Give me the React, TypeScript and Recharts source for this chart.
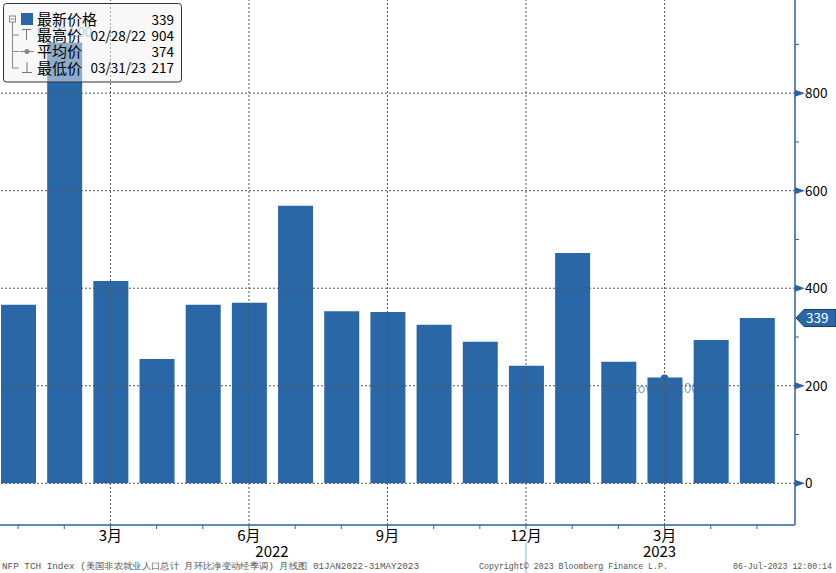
import React from 'react';
import { BarChart, Bar, XAxis, YAxis, ReferenceLine, ReferenceDot } from 'recharts';

// NFP TCH Index, monthly change, Jan 2022 - May 2023
const months = [
  '2022-01', '2022-02', '2022-03', '2022-04', '2022-05', '2022-06', '2022-07', '2022-08', '2022-09',
  '2022-10', '2022-11', '2022-12', '2023-01', '2023-02', '2023-03', '2023-04', '2023-05',
];
const monthLabels = ['', '', '3月', '', '', '6月', '', '', '9月', '', '', '12月', '', '', '3月', '', ''];
const values = [366, 904, 415, 255, 366, 370, 569, 353, 351, 325, 290, 241, 472, 249, 217, 294, 339];
const yTicks = [0, 100, 200, 300, 400, 500, 600, 700, 800, 900];
const majorTicks = [0, 200, 400, 600, 800];
const gridMonths = ['2022-03', '2022-06', '2022-09', '2022-12', '2023-03'];

const legendLabels = ['最新价格', '最高价', '平均价', '最低价'];
const legendDates = ['', '02/28/22', '', '03/31/23'];
const legendValues = ['339', '904', '374', '217'];

const LAST = 339;
const HI = { x: '2022-02', y: 904 };
const LOW = { x: '2023-03', y: 217 };

const data = months.map((m, i) => ({ m, v: values[i] }));

const BLUE = '#2a67a7';
const AXIS_BLUE = '#2b62a0';
const GHOST = '#7fa6d6';
const FONT = '"Noto Sans CJK SC", "Noto Sans", sans-serif';
const MONO = '"Liberation Mono", monospace';
const Y_DOMAIN: [number, number] = [-85.5, 991];
const X_PAD = { left: -5, right: 15 };

function YTick(props: any) {
  const { x, y, payload } = props;
  const v = payload.value;
  if (!majorTicks.includes(v)) {
    return <line x1={x} x2={x + 4} y1={y} y2={y} stroke={AXIS_BLUE} />;
  }
  return (
    <g>
      <polygon points={`${x},${y - 3.5} ${x + 10},${y} ${x},${y + 3.5}`} fill={AXIS_BLUE} />
      <text x={x + 10} y={y + 5} fontSize={13.5} fontFamily={FONT} fill="#000">{v}</text>
    </g>
  );
}

function XTick(props: any) {
  const { x, y, payload } = props;
  const i = months.indexOf(payload.value);
  const label = monthLabels[i];
  return (
    <g>
      <line x1={x} x2={x} y1={y} y2={y + 4} stroke={AXIS_BLUE} />
      {label && (
        <text x={x} y={y + 15.5} textAnchor="middle" fontSize={15} fontFamily={FONT} fill="#000">{label}</text>
      )}
      {payload.value === '2022-12' && (
        <line x1={x} x2={x} y1={y + 18} y2={y + 48} stroke="#8fb3d9" />
      )}
      {payload.value === '2022-06' && (
        <text x={x + 23} y={y + 32} textAnchor="middle" fontSize={15} fontFamily={FONT} fill="#000">2022</text>
      )}
      {payload.value === '2023-03' && (
        <text x={x - 5} y={y + 32} textAnchor="middle" fontSize={15} fontFamily={FONT} fill="#000">2023</text>
      )}
    </g>
  );
}

function LastBadge(props: any) {
  const { viewBox } = props;
  const x = viewBox.x + viewBox.width + 1;
  const y = viewBox.y;
  return (
    <g>
      <polygon
        points={`${x},${y} ${x + 8},${y - 8.5} ${x + 40},${y - 8.5} ${x + 40},${y + 8.5} ${x + 8},${y + 8.5}`}
        fill={BLUE}
        stroke="#173a63"
      />
      <text x={x + 10} y={y + 5} fontSize={13.5} fontFamily={FONT} fill="#fff">{LAST}</text>
    </g>
  );
}

// the Hi / Low notes sit behind the bars, so they go on a chart of their own underneath
function GhostNotes() {
  return (
    <BarChart width={836} height={573} data={data} margin={{ top: 0, right: 0, left: 0, bottom: 0 }}>
      <XAxis dataKey="m" height={48} interval={0} padding={X_PAD} tick={false} tickLine={false} axisLine={false} />
      <YAxis orientation="right" width={41} domain={Y_DOMAIN} ticks={yTicks} tick={false} tickLine={false} axisLine={false} allowDataOverflow />
      <ReferenceDot
        x={HI.x}
        y={HI.y}
        shape={(p: any) => (
          <text x={p.cx} y={p.cy - 5} textAnchor="middle" fontSize={13} fontFamily={FONT} fill={GHOST}>Hi 904.00</text>
        )}
      />
      <ReferenceDot
        x={LOW.x}
        y={LOW.y}
        shape={(p: any) => (
          <text x={p.cx} y={p.cy + 16} textAnchor="middle" fontSize={13} fontFamily={FONT} fill={GHOST}>Low 217.00</text>
        )}
      />
    </BarChart>
  );
}

export default function App() {
  return (
    <div style={{ position: 'absolute', left: 0, top: 0, width: 836, height: 573, background: '#fff' }}>
      <div style={{ position: 'absolute', left: 0, top: 0 }}>
        <GhostNotes />
      </div>
      <div style={{ position: 'absolute', left: 0, top: 0 }}>
        <BarChart width={836} height={573} data={data} margin={{ top: 0, right: 0, left: 0, bottom: 0 }}>
          <XAxis
            dataKey="m"
            height={48}
            interval={0}
            padding={X_PAD}
            tickSize={0}
            tickMargin={0}
            tickLine={false}
            axisLine={{ stroke: AXIS_BLUE, strokeWidth: 1.5 }}
            tick={<XTick />}
          />
          <YAxis
            orientation="right"
            width={41}
            domain={Y_DOMAIN}
            ticks={yTicks}
            tickSize={0}
            tickMargin={0}
            tickLine={false}
            axisLine={{ stroke: AXIS_BLUE, strokeWidth: 1.5 }}
            tick={<YTick />}
            allowDataOverflow
          />
          {majorTicks.map((t) => (
            <ReferenceLine key={t} y={t} stroke="#555" strokeDasharray="2 2" />
          ))}
          {gridMonths.map((m) => (
            <ReferenceLine key={m} x={m} stroke="#555" strokeDasharray="2 2" />
          ))}
          <Bar dataKey="v" fill={BLUE} barSize={35} isAnimationActive={false} />
          <ReferenceDot
            x={LOW.x}
            y={LOW.y}
            shape={(p: any) => (
              <path d={`M${p.cx - 4},${p.cy + 1} A4,4 0 0 1 ${p.cx + 4},${p.cy + 1} Z`} fill={BLUE} />
            )}
          />
          <ReferenceLine y={LAST} stroke="none" label={<LastBadge />} />
        </BarChart>
      </div>

      <svg
        width={836}
        height={573}
        style={{ position: 'absolute', left: 0, top: 0, pointerEvents: 'none' }}
      >
        <rect x={3.5} y={3.5} width={178} height={78.5} rx={3} fill="rgba(242,242,242,0.5)" stroke="#333" />
        <rect x={9.5} y={16} width={6} height={6} fill="none" stroke="#888" />
        <line x1={10.5} x2={14.5} y1={19} y2={19} stroke="#888" />
        <line x1={12.5} x2={12.5} y1={22} y2={68} stroke="#888" />
        {[35, 51.5, 68].map((yy) => (
          <line key={yy} x1={12.5} x2={19} y1={yy} y2={yy} stroke="#888" />
        ))}
        <rect x={21} y={13} width={12} height={12} fill={BLUE} />
        <line x1={22} x2={31} y1={29.5} y2={29.5} stroke="#777" />
        <line x1={26.5} x2={26.5} y1={29.5} y2={40} stroke="#777" />
        <line x1={20} x2={34} y1={51.5} y2={51.5} stroke="#888" />
        <circle cx={27} cy={51.5} r={2.5} fill="#888" />
        <line x1={27} x2={27} y1={62} y2={72} stroke="#777" />
        <line x1={22} x2={32} y1={72.5} y2={72.5} stroke="#777" />
        {legendLabels.map((l, i) => {
          const cy = 19.5 + i * 16.2;
          return (
            <g key={l}>
              <text x={37} y={cy + 5.5} fontSize={15} fontFamily={FONT} fill="#000">{l}</text>
              {legendDates[i] && (
                <text x={146} y={cy + 5} textAnchor="end" fontSize={13.5} fontFamily={FONT} fill="#000">{legendDates[i]}</text>
              )}
              <text x={174} y={cy + 5} textAnchor="end" fontSize={13.5} fontFamily={FONT} fill="#000">{legendValues[i]}</text>
            </g>
          );
        })}

        <text x={2} y={569} fontSize={9} fontFamily={MONO} fill="#555" textLength={417} lengthAdjust="spacingAndGlyphs">
          NFP TCH Index (美国非农就业人口总计 月环比净变动经季调)  月线图 01JAN2022-31MAY2023
        </text>
        <text x={479} y={569} fontSize={9} fontFamily={MONO} fill="#555" textLength={189} lengthAdjust="spacingAndGlyphs">
          Copyright© 2023 Bloomberg Finance L.P.
        </text>
        <text x={733} y={569} fontSize={9} fontFamily={MONO} fill="#555" textLength={99} lengthAdjust="spacingAndGlyphs">
          06-Jul-2023 12:00:14
        </text>
      </svg>
    </div>
  );
}
